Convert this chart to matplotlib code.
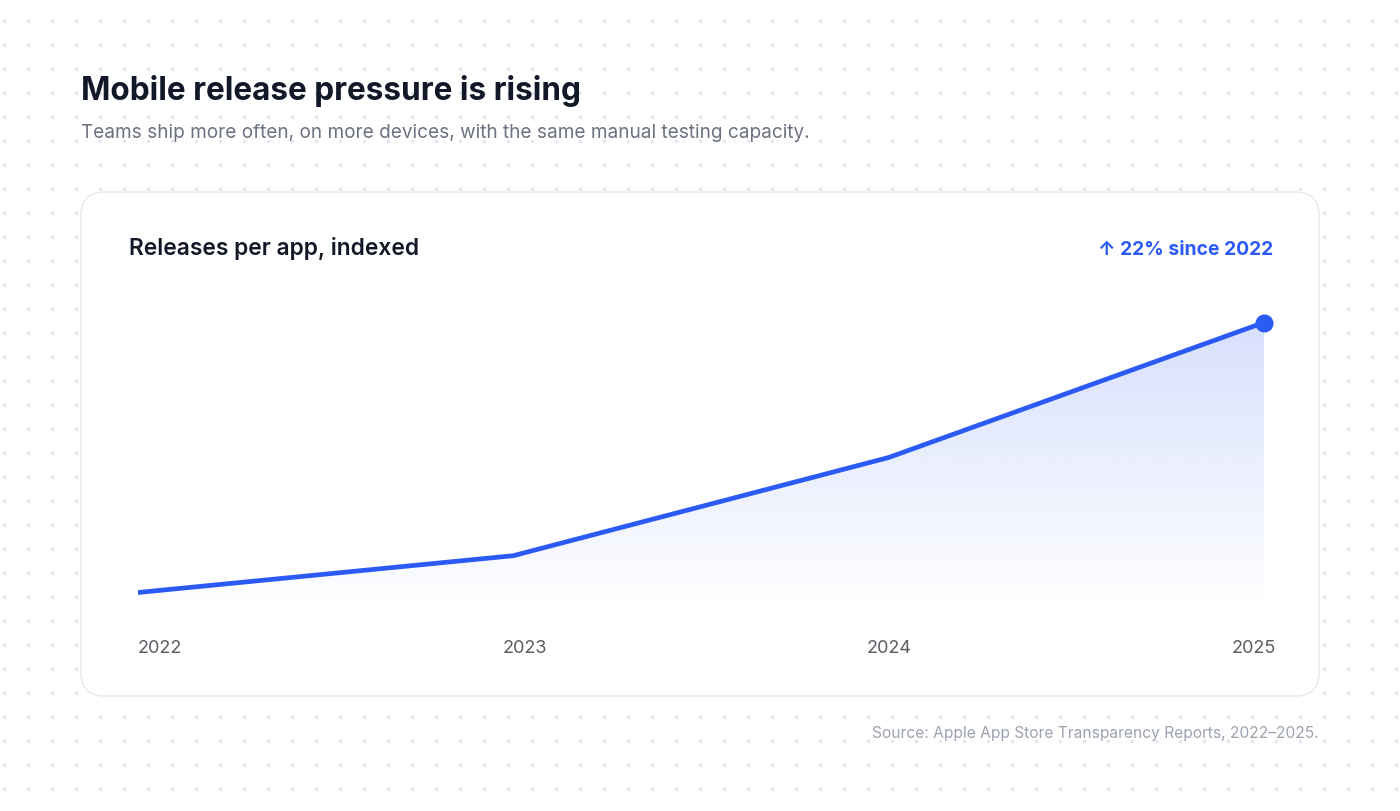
import numpy as np
import matplotlib
matplotlib.use("Agg")
import matplotlib.pyplot as plt
from matplotlib.patches import FancyBboxPatch
from matplotlib.colors import to_rgb

# ---- data ----
years = ["2022", "2023", "2024", "2025"]
index_values = [100, 103, 111, 122]
title = "Mobile release pressure is rising"
subtitle = "Teams ship more often, on more devices, with the same manual testing capacity."
card_title = "Releases per app, indexed"
badge = "\u2191 22% since 2022"
source = "Source: Apple App Store Transparency Reports, 2022\u20132025."

BLUE = "#2B5AF5"
FONT = ["Inter", "DejaVu Sans"]
plt.rcParams["font.family"] = FONT

W, H = 1400, 812
fig = plt.figure(figsize=(W / 100, H / 100), dpi=100)
fig.patch.set_facecolor("white")

bg = fig.add_axes([0, 0, 1, 1])
bg.set_xlim(0, W)
bg.set_ylim(H, 0)
bg.axis("off")

# dotted background
gx, gy = np.meshgrid(np.arange(4, W, 24), np.arange(22, H, 24))
bg.scatter(gx.ravel(), gy.ravel(), s=6.5, color="#e4e6ea", linewidths=0, zorder=0)

# card
card = FancyBboxPatch((81, 193), 1238, 504, boxstyle="round,pad=0,rounding_size=24",
                      facecolor="white", edgecolor="#e6e7eb", linewidth=1.0, zorder=1)
bg.add_patch(card)

# texts
bg.text(81, 91, title, fontsize=22.7, fontweight="bold", color="#111827",
        va="center", ha="left", zorder=3)
bg.text(81, 133, subtitle, fontsize=13.65, color="#6b7280", va="center", ha="left", zorder=3)
bg.text(129, 248, card_title, fontsize=16.4, fontweight="semibold", color="#111827",
        va="center", ha="left", zorder=3)
bg.text(1273, 250, badge, fontsize=13.9, fontweight="bold", color=BLUE,
        va="center", ha="right", zorder=3, family=FONT)
bg.text(1319, 734, source, fontsize=11.2, color="#9ca3af", va="center", ha="right", zorder=3)

# x labels laid out with space-between
left, right, w = 138, 1276, 44
n = len(years)
for i, yr in enumerate(years):
    cx = left + w / 2 + i * (right - left - w) / (n - 1)
    bg.text(cx, 649, yr, fontsize=13, color="#5b5b63", va="center", ha="center", zorder=3)

# chart axes
px_bottom, px_top = 612, 300
px_per_unit = (593 - 323) / 22.0
ylo = 100 - (px_bottom - 593.5) / px_per_unit
yhi = 122 + (323.5 - px_top) / px_per_unit
ax = fig.add_axes([138 / W, 1 - px_bottom / H, (1264 - 138) / W, (px_bottom - px_top) / H])
ax.set_xlim(0, len(years) - 1)
ax.set_ylim(ylo, yhi)
ax.axis("off")
ax.set_zorder(5)
ax.patch.set_alpha(0)

xs = np.arange(len(years))
vals = np.array(index_values, dtype=float)

poly = ax.fill_between(xs, vals, ylo, facecolor="none", edgecolor="none")
r, g, b = to_rgb(BLUE)
grad = np.zeros((256, 2, 4))
grad[..., 0], grad[..., 1], grad[..., 2] = r, g, b
alpha = np.linspace(0.19, 0.0, 256)
grad[..., 3] = alpha[:, None]
im = ax.imshow(grad, extent=[0, len(years) - 1, ylo, vals.max()], origin="upper",
               aspect="auto", interpolation="bicubic", zorder=1)
path = poly.get_paths()[0]
im.set_clip_path(path, transform=ax.transData)

ax.plot(xs, vals, color=BLUE, lw=3.4, solid_capstyle="round", solid_joinstyle="round", zorder=3)
ax.plot(xs[-1], vals[-1], "o", color=BLUE, ms=13, mec="none", zorder=4, clip_on=False)

fig.savefig("out.png", dpi=100, facecolor="white")
